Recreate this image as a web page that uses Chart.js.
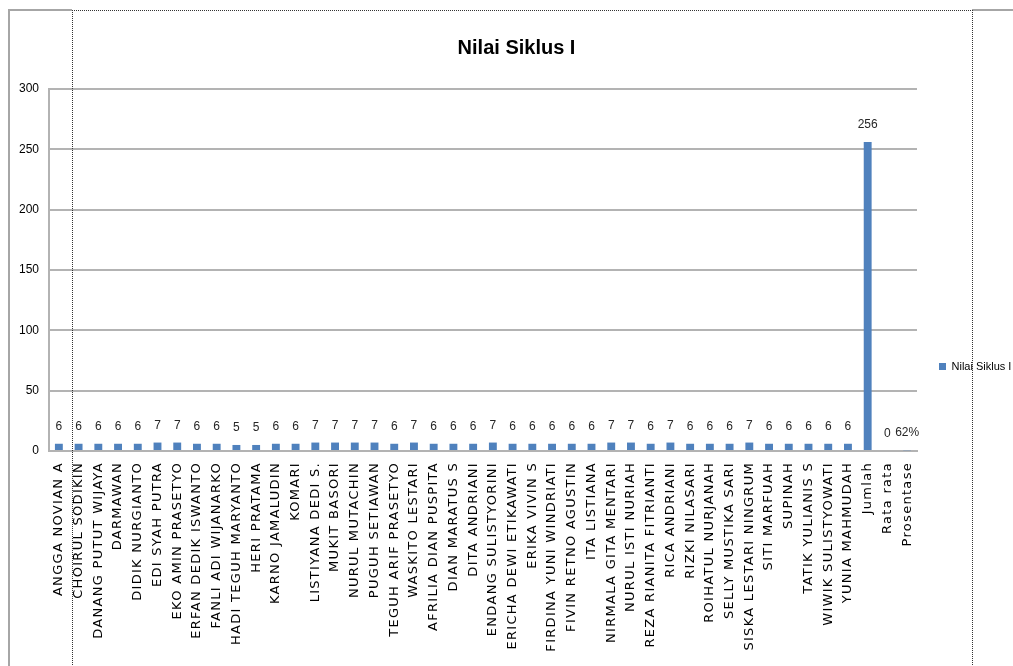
<!DOCTYPE html>
<html>
<head>
<meta charset="utf-8">
<title>Nilai Siklus I</title>
<script src="https://cdn.jsdelivr.net/npm/chart.js@4.4.1/dist/chart.umd.min.js"></script>
<style>
  html, body { margin: 0; padding: 0; background: #fff; }
  canvas { display: block; }
</style>
</head>
<body>
<canvas id="myChart" width="1013" height="666"></canvas>
<script>
const chartTitle = 'Nilai Siklus I';
const seriesName = 'Nilai Siklus I';

const categories = [
  'ANGGA NOVIAN A', 'CHOIRUL SODIKIN', 'DANANG PUTUT WIJAYA', 'DARMAWAN', 'DIDIK NURGIANTO',
  'EDI SYAH PUTRA', 'EKO AMIN PRASETYO', 'ERFAN DEDIK ISWANTO', 'FANLI ADI WIJANARKO',
  'HADI TEGUH MARYANTO', 'HERI PRATAMA', 'KARNO JAMALUDIN', 'KOMARI', 'LISTIYANA DEDI S.',
  'MUKIT BASORI', 'NURUL MUTACHIN', 'PUGUH SETIAWAN', 'TEGUH ARIF PRASETYO', 'WASKITO LESTARI',
  'AFRILIA DIAN PUSPITA', 'DIAN MARATUS S', 'DITA ANDRIANI', 'ENDANG SULISTYORINI',
  'ERICHA DEWI ETIKAWATI', 'ERIKA VIVIN S', 'FIRDINA YUNI WINDRIATI', 'FIVIN RETNO AGUSTIN',
  'ITA LISTIANA', 'NIRMALA GITA MENTARI', 'NURUL ISTI NURIAH', 'REZA RIANITA FITRIANTI',
  'RICA ANDRIANI', 'RIZKI NILASARI', 'ROIHATUL NURJANAH', 'SELLY MUSTIKA SARI',
  'SISKA LESTARI NINGRUM', 'SITI MARFUAH', 'SUPINAH', 'TATIK YULIANIS S', 'WIWIK SULISTYOWATI',
  'YUNIA MAHMUDAH', 'Jumlah', 'Rata rata', 'Prosentase'
];

const nilai = [
  6, 6, 6, 6, 6, 7, 7, 6, 6, 5, 5, 6, 6, 7, 7, 7, 7, 6, 7,
  6, 6, 6, 7, 6, 6, 6, 6, 6, 7, 7, 6, 7, 6, 6, 6, 7, 6, 6, 6, 6, 6,
  256, 0, 0.62
];

const yTicks = [0, 50, 100, 150, 200, 250, 300];

const narrow = "'Liberation Sans Narrow', 'Liberation Sans', Arial, sans-serif";
const barBlue = '#4f81bd';
const gridGray = '#b3b3b3';

// Prosentase is stored as a fraction, shown as percent
const valueLabel = (cat, v) => cat === 'Prosentase' ? Math.round(v * 100) + '%' : String(v);

// numbers above the bars
const valueLabels = {
  id: 'valueLabels',
  afterDatasetsDraw(chart) {
    const ctx = chart.ctx;
    const meta = chart.getDatasetMeta(0);
    ctx.save();
    ctx.font = '12px ' + narrow;
    ctx.fillStyle = '#262626';
    ctx.textAlign = 'center';
    ctx.textBaseline = 'alphabetic';
    meta.data.forEach((bar, i) => {
      ctx.fillText(valueLabel(categories[i], nilai[i]), bar.x, bar.y - 14);
    });
    ctx.restore();
  }
};

// move title / legend to where Excel put them, space out the category text
const layoutTweaks = {
  id: 'layoutTweaks',
  afterLayout(chart) {
    const t = chart.titleBlock;
    if (t) { t.left += 11; t.right += 11; }
    const lg = chart.legend;
    if (lg) {
      const w = lg.width, h = lg.height;
      lg.left = 929; lg.right = 929 + w;
      lg.top = 351; lg.bottom = 351 + h;
    }
    const xs = chart.scales.x;
    if (xs && !xs._spaced) {
      const orig = xs.drawLabels;
      xs.drawLabels = function (area) {
        const c = this.ctx;
        const prev = c.letterSpacing;
        c.letterSpacing = '1.3px';
        orig.call(this, area);
        c.letterSpacing = prev;
      };
      xs._spaced = true;
    }
  }
};

// sheet border and dotted page-break lines
const pageFrame = {
  id: 'pageFrame',
  afterDraw(chart) {
    const ctx = chart.ctx;
    ctx.save();
    ctx.strokeStyle = '#a6a6a6';
    ctx.lineWidth = 2;
    ctx.beginPath();
    ctx.moveTo(9, 666); ctx.lineTo(9, 10); ctx.lineTo(72, 10);
    ctx.moveTo(972, 10); ctx.lineTo(1013, 10);
    ctx.stroke();

    ctx.strokeStyle = '#333';
    ctx.lineWidth = 1;
    ctx.setLineDash([1, 1]);
    ctx.beginPath();
    ctx.moveTo(72, 10.5); ctx.lineTo(972, 10.5);
    ctx.moveTo(72.5, 10); ctx.lineTo(72.5, 666);
    ctx.moveTo(972.5, 10); ctx.lineTo(972.5, 666);
    ctx.stroke();
    ctx.restore();
  }
};

const ctx = document.getElementById('myChart').getContext('2d');

new Chart(ctx, {
  type: 'bar',
  data: {
    labels: categories,
    datasets: [
      {
        label: seriesName,
        data: nilai,
        backgroundColor: barBlue,
        borderWidth: 0,
        barPercentage: 0.4,
        categoryPercentage: 1,
      },
    ],
  },
  options: {
    responsive: false,
    animation: false,
    devicePixelRatio: 1,
    layout: {
      padding: { left: 9, right: 11, top: 0, bottom: 0 },
    },
    scales: {
      x: {
        grid: { display: false, drawTicks: false },
        border: { color: gridGray, width: 2 },
        ticks: {
          autoSkip: false,
          maxRotation: 90,
          minRotation: 90,
          padding: 11,
          color: '#000',
          font: { family: "'DejaVu Sans', Verdana, sans-serif", size: 13 },
        },
        afterFit: (scale) => { scale.height = 215; },
      },
      y: {
        min: 0,
        max: 300,
        grid: { color: gridGray, lineWidth: 2, drawTicks: false },
        border: { color: gridGray, width: 2 },
        ticks: {
          padding: 10,
          color: '#000',
          font: { family: narrow, size: 12 },
        },
        afterBuildTicks: (axis) => { axis.ticks = yTicks.map(v => ({ value: v })); },
        afterFit: (scale) => { scale.width = 40; },
      },
    },
    plugins: {
      title: {
        display: true,
        text: chartTitle,
        color: '#000',
        font: { family: narrow, size: 20, weight: 'bold' },
        padding: { top: 36, bottom: 29 },
      },
      legend: {
        position: 'right',
        align: 'start',
        maxWidth: 85,
        labels: {
          boxWidth: 7,
          boxHeight: 7,
          padding: 10,
          color: '#000',
          font: { family: narrow, size: 11 },
        },
      },
      tooltip: { enabled: false },
    },
  },
  plugins: [valueLabels, layoutTweaks, pageFrame],
});
</script>
</body>
</html>
